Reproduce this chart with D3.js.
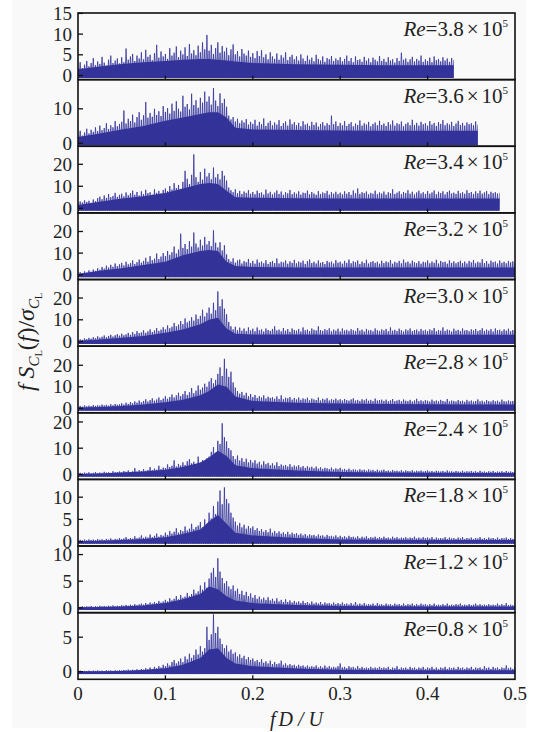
<!DOCTYPE html>
<html>
<head>
<meta charset="utf-8">
<script src="https://cdn.jsdelivr.net/npm/d3@7"></script>
<style>
  body { margin: 0; background: #fff; }
  svg { display: block; }
  text { font-family: "Liberation Serif", "DejaVu Serif", serif; }
</style>
</head>
<body>
<svg id="chart" width="538" height="732"></svg>
<script>
// spectra are sampled every 0.0025 in fD/U, starting at 0 (one row = 0.05)
const step = 0.0025;
const reValues = ["3.8", "3.6", "3.4", "3.2", "3.0", "2.8", "2.4", "1.8", "1.2", "0.8"];
const yDomains = [[-1, 15.1], [-0.9, 18.5], [-2.1, 28.2], [-2.2, 28.6], [-2.1, 28.5],
                  [-2.1, 28.9], [-1.9, 23.5], [-1, 14], [-0.9, 11.6], [-1.1, 8.55]];
const yTicks = [[0, 5, 10, 15], [0, 10], [0, 10, 20], [0, 10, 20], [0, 10, 20],
                [0, 10, 20], [0, 10, 20], [0, 5, 10], [0, 5, 10], [0, 5]];
const xTicks = [0, 0.1, 0.2, 0.3, 0.4, 0.5];
// lowest dips of each spectrum
const floors = [-0.6, -0.6, -1.1, -1.1, -1.1, -1.1, -0.9, -0.5, -0.4, -0.35];
// frequencies where the dense part of each spectrum was read
const knotF = [0, 0.025, 0.05, 0.075, 0.1, 0.12, 0.14, 0.15, 0.16, 0.17, 0.18, 0.2, 0.25, 0.3, 0.35, 0.4, 0.45, 0.5];

const hi38 = [
  2,3.2,1.8,2.6,3.5,2.2,3,4.2,2.5,3.4,2.8,4.5,3.1,2.4,3.8,4.8,3,3.6,4.1,2.9,
  4.4,3.2,6.5,3.8,4.6,5.2,3.5,4.8,4.1,5.6,3.9,6.2,4.5,5,3.7,5.4,7.4,4.3,5.8,4.6,
  5.2,4,6.6,4.8,5.5,7,4.4,6,5.1,6.8,4.7,7.6,5.3,6.1,4.9,7.2,5.6,8,6.3,9.8,
  6,7.4,5.2,6.6,8,5.5,7.1,5.8,6.7,4.9,6.3,7.5,5.1,5.9,4.6,6.4,5.3,4.8,6,4.5,
  5.4,4.2,5.9,4.7,6.1,4.4,5.1,3.9,5.6,4.6,4,5.3,3.8,4.9,4.3,5.6,3.7,4.5,5,3.9,
  4.6,3.6,5.1,4.1,3.5,4.8,3.8,4.3,3.4,5,4,3.6,4.6,3.3,4.2,3.9,4.7,3.5,4.1,3.7,
  4.4,3.4,4,4.8,3.5,4.2,3.2,4.6,3.7,3.9,3.3,4.5,3.6,4.1,3.2,4.3,3.8,3.4,4.7,3.5,
  4,3.3,4.4,3.6,3.9,3.1,4.2,3.5,5.5,3.8,4.1,3.3,3.9,4.5,3.4,4,3.6,4.8,3.3,3.9,
  3.5,4.3,3.2,4.6,3.7,4,3.4,4.4,3.6,4.1,3.3,4.2,3.8];
const hi36 = [
  2.5,3.6,2.2,3.1,4.2,2.8,3.9,3.3,4.6,3.5,5.1,3.8,4.4,5.8,4.1,5.2,4.6,6.4,4.9,5.6,
  6.2,9.5,5.7,7.1,6.4,8.3,6,7.6,9,6.8,8.1,12,7.4,8.8,7.7,10,8.2,9.3,7.9,10.8,
  9.1,10.2,8.6,11.5,9.4,12.2,10,9.2,13.8,10.6,11.4,9.8,14.4,11.1,12.5,10.3,13.2,11.8,15,12.1,
  13.6,11.2,16,12.4,10.8,14.5,11.7,12.9,10.6,8,6.9,7.6,6.3,7.1,5.8,6.6,6,7,5.4,6.2,
  5.6,6.8,5.1,6.2,5.5,7.2,5,5.9,6.5,5.2,6,5.4,6.7,5,5.8,6.3,5.1,6.9,5.5,6.1,
  5.2,5.9,4.9,6.4,5.4,5.7,5,6.2,5.3,6,4.8,5.6,6.1,5.1,5.8,5.3,8,5.5,6.3,5,
  5.9,5.2,6.4,5,5.6,6.1,4.9,5.7,5.3,6.6,5.1,5.8,5.4,6.2,4.9,5.6,6,5.2,6.5,5.3,
  5.7,5,6.1,5.4,6.6,5.1,5.8,5.5,6.3,4.9,5.6,6,5.2,6.8,5.3,5.9,5.1,6.2,5.5,5.8,
  5.1,6.4,5.4,5.9,5,6.1,5.6,6.7,5.2,5.8,5.4,6.2,5,5.7,6.5,5.3,5.9,5.1,6,5.5,
  5.8,5.2,6.3,5.4];
const hi34 = [
  2.2,3.1,2.6,3.6,2.9,3.4,2.5,4,3.2,4.6,5.3,4.1,5.8,4.7,6.5,5,5.6,7,5.2,6.1,
  6.6,5.4,7.2,5.9,6.8,8,6.1,7.4,5.8,7.7,6.4,8.4,6.9,7.3,6.2,8.6,7,7.9,6.7,8.3,
  9,7.8,10.1,8.5,11.4,9.2,10.6,8.8,12,17,13.4,11,15.2,24.5,14.1,12,16.5,13,18,14.4,
  16,13.2,18.5,14,15.6,13.1,17,14.8,12.6,9.4,8.2,7.3,8.6,6.8,7.9,6.5,7.6,7,8.2,6.6,
  7.4,6.4,8,6.9,7.2,6.2,8.5,6.7,7.5,6.3,7.1,8.1,6.5,7.6,6.1,7.3,6.8,8.3,6.4,7.2,
  6.6,7.7,6.2,7.1,6.9,8,6.3,7.4,6.7,6.1,7.8,6.5,7.2,6.8,7.9,6.2,7.3,6.6,7.5,6.4,
  7.1,6.3,7.7,6.6,7.4,6.1,8.1,6.8,9,6.5,7.3,6.9,7.6,6.3,7,6.6,8,6.4,7.2,6.7,
  7.6,6.2,7.3,6.8,8.6,6.5,7.1,7.7,6.4,7.4,6.9,8.2,6.6,7.5,6.3,7.2,8,6.7,7.3,6.5,
  7.8,6.6,7.2,8.1,6.4,7.5,6.9,7.7,6.3,7.4,8,6.7,7.1,6.5,7.9,6.8,7.3,6.6,8.2,6.9,
  7.4,6.5,7.7,6.8,8,6.6,7.2,7.8,6.4,7.5,6.9,7.3,6.7,7.1];
const hi32 = [
  0.6,1.2,0.8,1.6,1,2,1.4,2.4,1.8,3,2.3,3.6,2.8,4.2,3.3,4.6,3.7,5.2,4,4.8,
  5.5,4.3,6,4.8,5.4,6.6,5,5.8,7,5.6,6.4,7.8,6,8.6,6.7,7.4,9.8,7.2,8.4,10,
  8.6,11,9.2,10.4,13,9.8,11.6,19,12.4,14.2,11.8,15.5,13,19.5,14.4,12.6,16.2,13.5,17.5,14,
  15.6,13.2,20.5,14.8,12.6,15,11.2,13.6,9.4,7.2,6.1,7.6,5.6,6.6,7,5.2,6.3,5.8,7.3,5.4,
  6.4,5.1,7,5.6,6.1,5.3,6.7,5,5.9,6.4,5.4,7.5,5.2,6,5.7,6.6,5.1,6.2,5.5,6.9,
  5.3,6.1,5.6,6.5,5,6.3,7,5.4,6,5.2,6.6,5.5,5.9,5,6.4,5.7,6.1,5.2,6.8,5.6,
  6,5.1,6.4,5.5,7,5.3,6.2,5.8,6.6,5,6.1,5.4,6.9,5.2,5.9,6.3,5.5,6,5.1,6.5,
  5.4,6.2,5.7,6.8,5.1,6,5.5,6.4,5.3,7,5.6,6.1,5.2,6.5,5.8,5.4,6.3,5.1,6,5.7,
  6.6,5.3,6.1,5.5,6.9,5.2,6.4,5.8,6,5.1,6.7,5.5,6.2,5.3,5.9,6.5,5.4,6.1,5.2,6.4,
  5.7,6.8,5.3,6,5.6,7.2,5.4,6.3,5.1,6.5,5.8,6.1,5.2,6.6,5.5,6,5.3,6.4,5.7,6.2,
  5.5];
const hi30 = [
  0.6,1,0.8,1.4,1.1,1.7,1.3,2,1.5,2.4,1.8,2.2,2.8,2,2.6,3.1,2.3,2.9,3.4,2.7,
  3.6,2.9,3.3,4,3.1,4.4,3.5,4.8,3.9,4.2,5.2,4,4.7,5.6,4.4,5.1,6.2,4.9,5.5,6.6,
  5.6,7.4,6.1,6.8,8.5,7,7.8,9.4,8,10.6,8.8,9.5,11.2,9.6,12.4,10.4,11.8,14.6,11.5,13.2,
  15.6,12.8,17.8,14.4,23,16.2,19.4,15.1,12.5,9,7,5.6,6.8,5.2,6.4,5,6,4.8,6.5,5.1,
  5.9,4.7,6.5,5.2,5.6,4.6,6,5.3,4.9,5.8,7,5.1,5.5,4.7,6.2,5,5.7,4.5,6,5.3,
  5,5.8,4.6,6.5,5.2,5.5,4.8,6,5.4,5.1,7,5.3,4.9,5.7,5.2,6.1,4.7,5.5,5,5.9,
  4.6,6,5.1,5.4,4.8,5.7,5.2,4.9,6.2,5,5.5,4.6,5.8,5.1,5.3,4.7,6,5.2,4.9,5.6,
  5.1,5.8,4.7,6.5,5,5.4,4.8,5.9,5.2,4.6,5.6,5.1,6,4.8,5.3,5.5,4.7,5.8,5,5.4,
  4.8,5.6,5.1,6.2,4.7,5.3,5,6.5,4.9,5.5,5.2,4.6,5.9,5,5.4,4.8,6,5.1,5.3,4.7,
  5.6,5.1,5.8,4.8,5.3,6.1,4.9,5.5,5,5.7,4.6,6,5.2,5.4,4.8,5.6,5,5.9,4.7,5.3,
  5];
const hi28 = [
  0.8,1.1,0.7,1.3,0.9,1.2,1,1.5,1.1,1.4,1.2,1.7,1.3,1.6,1.2,1.9,1.4,2,1.6,1.8,
  2.3,1.7,2.6,2,2.9,2.3,3.2,2.6,3.6,2.8,3.4,4.2,3.1,3.8,4.6,3.5,4.1,5,3.8,4.5,
  5.6,4.4,5.2,6.4,5,6,7.2,5.6,6.6,8,6.2,7.4,9.4,7,8.2,10.6,8.6,9.6,11.4,10,
  12.4,14,11.6,13.2,16,19,15,23,18.4,14.6,17,12,9.6,8,6.8,7.6,6,7.2,5.6,6.6,
  5.2,6.2,4.8,5.6,5,6,4.5,5.4,4.8,5.1,4.4,5.5,4.3,6,4.2,4.9,4.6,5.2,4,4.8,
  4.1,5,3.9,4.6,4.2,4.9,3.7,4.5,4.1,3.8,5,3.6,4.4,4,4.7,3.6,4.2,3.9,4.5,3.7,
  4.2,3.6,4.3,3.8,3.5,4.1,4.6,3.6,3.9,3.4,4.2,3.7,4.4,3.5,3.9,3.3,4.5,3.6,3.8,4,
  3.4,4,3.2,3.7,4.3,3.3,3.6,3.9,3.2,4.1,3.5,3.3,3.9,3.1,3.6,4.4,3.3,3.7,3.2,3.8,
  3.5,3.1,4,3.3,3.6,3.2,3.9,3.4,3.1,4.3,3.2,3.6,3.4,3.1,3.8,3.3,3.5,3,3.9,3.2,
  3.6,3.1,3.4,4.1,3.2,3.5,3,3.8,3.3,3.1,3.7,3.2,3.5,3,4,3.3,3.1,3.6,3.2,3.4,
  3.3];
const hi24 = [
  0.4,0.6,0.3,0.7,0.5,0.8,0.4,0.6,0.9,0.5,0.7,0.6,1,0.7,0.8,0.6,1.2,0.8,0.9,1.1,
  0.8,1.3,1,1.5,0.9,1.2,2.4,1.1,1.6,1.3,2,1.4,1.7,2.8,1.6,2.2,1.8,3.3,2,2.6,
  2.4,3.8,2.8,3.3,5.4,3,4,3.4,4.6,3.6,5,5.8,4.2,4.8,3.9,6.8,4.5,5.4,4.7,6.2,
  6.8,8.6,10.4,8.2,12.8,11.6,19.5,14.2,12.6,10,9.2,7,5.8,7.2,5.3,6.2,4.8,6,4.6,5.5,
  4.5,5.4,4.1,4.8,3.7,5,3.9,4.4,3.5,4.2,3.4,4.6,3.2,3.8,3.3,3.6,3,3.9,2.9,3.4,
  3,3.5,2.7,3.2,2.5,3.1,2.6,2.9,2.3,3,2.2,2.7,2.1,2.5,2.3,2,2.6,1.9,2.3,2,
  2.5,1.8,2.1,1.7,2.2,1.6,1.9,1.8,1.5,2,1.6,1.8,1.4,1.9,1.5,1.7,1.3,1.8,1.4,1.6,
  1.8,1.3,1.5,1.2,1.7,1.3,1.4,1.2,1.6,1.1,1.5,1.3,1.2,1.6,1.1,1.4,1.2,1.5,1.1,1.3,
  1.5,1.1,1.3,1,1.4,1.2,1.1,1.3,1,1.5,1.1,1.2,1,1.3,1.1,1,1.4,1,1.2,1.1,
  1.3,1,1.2,0.9,1.4,1,1.1,0.9,1.2,1,1.3,0.9,1.1,1,1.2,0.9,1.3,1,1.1,0.9,
  1.2];
const hi18 = [
  0.3,0.4,0.25,0.45,0.3,0.5,0.35,0.45,0.3,0.55,0.4,0.5,0.35,0.6,0.45,0.7,0.4,0.6,0.5,0.8,
  0.55,0.7,1,0.6,0.8,0.65,1.2,0.75,0.9,1.4,0.85,1.1,0.9,1.6,1,1.3,1.8,1.1,1.5,1.3,
  2,1.5,2.4,1.8,2.2,3,2,2.6,2.3,3.4,2.5,2.9,4,2.8,3.3,3.6,4.4,3.2,5,4,
  6.5,5.2,8,6.2,9,11.5,8.4,12.2,9.6,8.6,6.5,5.4,4.5,3.6,4.2,3.2,3.8,2.9,3.5,3,
  3.4,2.6,3,2.4,2.8,2.2,2.6,2.1,2.9,2,2.4,1.9,2.3,1.8,2.1,1.7,2.2,1.6,2,1.7,
  1.9,1.5,1.8,1.4,1.7,1.3,1.6,1.4,1.5,1.2,1.6,1.3,1.4,1.1,1.5,1.2,1.3,1.1,1.4,1,
  1.3,1,1.2,0.9,1.3,1,1.1,0.9,1.2,0.8,1.1,0.9,1.2,0.8,1,0.9,1.1,0.8,1,0.8,
  1.1,0.8,0.9,0.7,1.1,0.8,1,0.7,0.9,0.8,1,0.7,0.9,0.8,1.1,0.7,0.9,0.7,1,0.8,
  0.9,0.7,1,0.6,0.9,0.7,0.8,0.7,1,0.6,0.9,0.7,0.8,0.6,0.9,0.7,1,0.6,0.8,0.7,
  0.9,0.6,0.8,0.7,1,0.6,0.8,0.6,0.9,0.7,0.8,0.6,0.9,0.6,0.8,0.7,0.9,0.6,0.8,0.6,
  0.8];
const hi12 = [
  0.25,0.2,0.3,0.2,0.3,0.25,0.35,0.2,0.3,0.25,0.4,0.3,0.35,0.25,0.4,0.3,0.45,0.3,0.4,0.35,
  0.5,0.4,0.55,0.4,0.6,0.45,0.7,0.5,0.65,0.8,0.6,0.9,0.7,1,0.8,1.1,0.9,1.3,1,1.2,
  1.5,1.2,1.8,1.4,1.7,2.2,1.6,2.4,1.9,2.1,2.8,2.2,2.6,3.4,2.7,3.1,4.2,3.4,4.8,3.8,
  5.5,6.6,7.5,5.8,9.3,6.8,5.6,4.6,5,4,3.5,4.2,3.2,3.6,2.6,3.2,2.4,3,2.2,2.7,
  1.9,2.4,1.7,2.1,1.6,1.9,1.5,2,1.4,1.7,1.3,1.8,1.2,1.5,1.1,1.6,1.1,1.4,1,1.3,
  1,1.2,0.9,1.3,0.9,1.1,0.8,1.2,0.8,1,0.8,1.1,0.7,1,0.8,0.9,0.7,1,0.7,0.9,
  0.7,1,0.7,0.8,0.6,0.9,0.6,1.1,0.6,0.8,0.6,0.9,0.6,0.7,0.6,0.8,0.5,0.9,0.6,0.7,
  0.5,0.8,0.6,0.7,0.5,0.8,0.6,0.7,0.5,0.8,0.5,0.7,0.6,0.8,0.5,0.7,0.5,0.8,0.6,0.7,
  0.5,0.7,0.5,0.8,0.5,0.6,0.5,0.7,0.5,0.8,0.5,0.6,0.5,0.7,0.6,0.8,0.5,0.6,0.5,0.7,
  0.5,0.6,0.8,0.5,0.7,0.5,0.6,0.5,0.7,0.5,0.6,0.5,0.8,0.5,0.7,0.5,0.9,0.5,0.6,0.5,
  0.6];
const hi08 = [
  0.1,0.15,0.1,0.12,0.1,0.15,0.1,0.15,0.12,0.18,0.12,0.15,0.1,0.2,0.15,0.18,0.12,0.2,0.15,0.22,
  0.18,0.25,0.2,0.3,0.2,0.28,0.22,0.35,0.25,0.4,0.3,0.5,0.35,0.6,0.4,0.7,0.5,0.8,0.6,1,
  0.8,1.2,0.9,1.4,1.7,1.2,1.5,1.9,1.4,2.2,1.8,2.6,2,2.4,3.2,2.5,3.7,2.9,3.4,6.5,
  4.6,5.4,8.3,5.6,6.5,4.8,4,3.4,3.8,2.9,3.2,2.6,2.8,2.2,2.5,2,2.3,1.8,2.1,1.7,
  1.9,1.5,1.7,1.4,1.8,1.3,1.5,1.2,1.6,1.1,1.4,1.1,1.2,1.6,1,1.2,0.9,1.1,0.9,1,
  0.8,1,0.8,0.9,0.7,0.9,0.7,0.8,0.7,0.9,0.6,0.8,0.6,0.9,0.6,0.8,0.6,0.7,0.6,0.8,
  1.2,0.6,0.7,0.5,0.8,0.6,0.7,0.5,0.8,0.5,0.7,0.5,0.6,0.5,0.7,0.5,0.6,0.5,0.7,0.5,
  0.6,0.5,0.7,0.4,0.6,0.5,0.8,0.4,0.6,0.5,0.6,0.4,0.7,0.5,0.6,0.4,0.6,0.5,0.7,0.4,
  0.6,0.5,0.7,0.4,0.6,0.4,0.6,0.5,0.7,0.4,0.6,0.5,0.6,0.4,0.7,0.5,0.6,0.4,0.6,0.5,
  0.7,0.4,0.6,0.5,0.6,0.4,0.8,0.5,0.6,0.4,0.7,0.5,0.6,0.4,0.6,0.5,0.9,0.5,0.6,0.4,
  0.7];

// top of the dense part at knotF
const body38 = [1.5,2.2,2.8,3.2,3.5,3.8,4,4,3.8,3.6,3.4,3,2.7,2.6,2.5,2.5,2.5,2.5];
const body36 = [1.8,2.8,4,5,6.5,7.5,8.5,9,9,7.5,4.5,4,3.8,3.7,3.6,3.6,3.6,3.6];
const body34 = [1.5,3,4.5,5.5,7,9,11,11.5,11,8,5,4.8,4.6,4.5,4.5,4.5,4.5,4.5];
const body32 = [0.4,1.8,3,4.5,6,9,11,11.5,11,6,4,3.6,3.4,3.3,3.3,3.3,3.3,3.3];
const body30 = [0.4,1,1.8,2.6,4,5.5,8,10,11,6,3.6,3.3,3.2,3.1,3.1,3.1,3.1,3.1];
const body28 = [0.3,0.6,1,1.8,2.8,4,6,8,11,10,5.5,3.4,2.6,2.2,2,1.9,1.8,1.8];
const body24 = [0.2,0.4,0.7,1.1,1.8,2.8,4.5,6.5,9,7,3.5,2.4,1.5,0.9,0.7,0.6,0.5,0.5];
const body18 = [0.1,0.2,0.35,0.6,1,1.7,2.7,4.5,6,4,2,1.4,0.8,0.5,0.4,0.35,0.35,0.35];
const body12 = [0.1,0.15,0.25,0.45,0.9,1.6,2.6,4,3.5,2.2,1.4,0.9,0.55,0.35,0.3,0.25,0.25,0.25];
const body08 = [0.05,0.08,0.12,0.25,0.5,1,2,3.2,3.4,2,1.2,0.8,0.45,0.3,0.25,0.22,0.22,0.22];

const spikes = [hi38, hi36, hi34, hi32, hi30, hi28, hi24, hi18, hi12, hi08];
const bodies = [body38, body36, body34, body32, body30, body28, body24, body18, body12, body08];

const svg = d3.select("#chart");
const blue = "#34349a";
const top0 = 13, ph = 66.63;

svg.append("rect")
  .attr("x", 12).attr("y", 0).attr("width", 514).attr("height", 728)
  .attr("fill", "#f9f9f9");

const x = d3.scaleLinear().domain([0, 0.5]).range([78, 515]);

reValues.forEach((re, i) => {
  const t = top0 + i * ph, b = t + ph;
  const y = d3.scaleLinear().domain(yDomains[i]).range([b, t]);
  const hi = spikes[i];
  const end = Math.min((hi.length - 1) * step, 0.5);
  const g = svg.append("g");

  g.append("clipPath").attr("id", "clip" + i)
    .append("rect")
    .attr("x", x(0)).attr("y", t - 2)
    .attr("width", x(end) - x(0)).attr("height", ph + 6);

  const plot = g.append("g").attr("clip-path", "url(#clip" + i + ")");

  // dense part
  const area = d3.area()
    .x(d => x(d[0]))
    .y0(y(floors[i]))
    .y1(d => y(d[1]));
  plot.append("path")
    .datum(d3.zip(knotF, bodies[i]))
    .attr("d", area)
    .attr("fill", blue);

  // spikes, each followed by a dip to the floor
  const pts = [];
  hi.forEach((v, k) => {
    pts.push([k * step, v]);
    if (k < hi.length - 1) pts.push([k * step + step / 2, floors[i]]);
  });
  plot.append("path")
    .datum(pts)
    .attr("d", d3.line().x(d => x(d[0])).y(d => y(d[1])))
    .attr("fill", "none")
    .attr("stroke", blue)
    .attr("stroke-width", 0.8);

  // frame
  g.append("rect")
    .attr("x", x(0)).attr("y", t)
    .attr("width", x(0.5) - x(0)).attr("height", ph)
    .attr("fill", "none").attr("stroke", "#111").attr("stroke-width", 1.6);

  // inward ticks
  g.selectAll(".yt").data(yTicks[i]).enter().append("line")
    .attr("x1", x(0)).attr("x2", x(0) + 5)
    .attr("y1", d => y(d)).attr("y2", d => y(d))
    .attr("stroke", "#111").attr("stroke-width", 1.3);
  g.selectAll(".xt").data(xTicks.slice(1, 5)).enter().append("line")
    .attr("x1", d => x(d)).attr("x2", d => x(d))
    .attr("y1", b).attr("y2", b - 4)
    .attr("stroke", "#111").attr("stroke-width", 1.3);

  g.selectAll(".yl").data(yTicks[i]).enter().append("text")
    .attr("x", 72).attr("y", d => y(d))
    .attr("dy", "0.35em")
    .attr("text-anchor", "end")
    .attr("font-size", 19)
    .attr("fill", "#222")
    .text(d => d);

  const lab = g.append("text")
    .attr("x", 508).attr("y", t + 23)
    .attr("text-anchor", "end")
    .attr("font-size", 21)
    .attr("fill", "#222");
  lab.append("tspan").attr("font-style", "italic").text("Re");
  lab.append("tspan").text("=" + re);
  lab.append("tspan").attr("dx", 3).text("×");
  lab.append("tspan").attr("dx", 3).text("10");
  lab.append("tspan").attr("dy", -9).attr("font-size", 11).text("5");
});

// bottom axis labels
const bottom = top0 + 10 * ph;
svg.selectAll(".xl").data(xTicks).enter().append("text")
  .attr("x", d => x(d)).attr("y", bottom + 21)
  .attr("text-anchor", "middle")
  .attr("font-size", 19)
  .attr("fill", "#222")
  .text(d => d === 0 ? "0" : d.toFixed(1));

const xl = svg.append("text")
  .attr("x", x(0.25)).attr("y", 726)
  .attr("text-anchor", "middle")
  .attr("font-size", 20)
  .attr("font-style", "italic")
  .attr("fill", "#222");
xl.append("tspan").text("f");
xl.append("tspan").attr("dx", 3).text("D / U");

const yl = svg.append("text")
  .attr("transform", "translate(34,342) rotate(-90)")
  .attr("text-anchor", "middle")
  .attr("font-size", 24)
  .attr("fill", "#222");
yl.append("tspan").attr("font-style", "italic").text("f S");
yl.append("tspan").attr("font-style", "italic").attr("font-size", 15).attr("dy", 5).text("C");
yl.append("tspan").attr("font-size", 10).attr("dy", 3).text("L");
yl.append("tspan").attr("dy", -8).text("(");
yl.append("tspan").attr("font-style", "italic").text("f");
yl.append("tspan").text(")/");
yl.append("tspan").attr("font-style", "italic").text("σ");
yl.append("tspan").attr("font-style", "italic").attr("font-size", 15).attr("dy", 5).text("C");
yl.append("tspan").attr("font-size", 10).attr("dy", 3).text("L");
</script>
</body>
</html>
